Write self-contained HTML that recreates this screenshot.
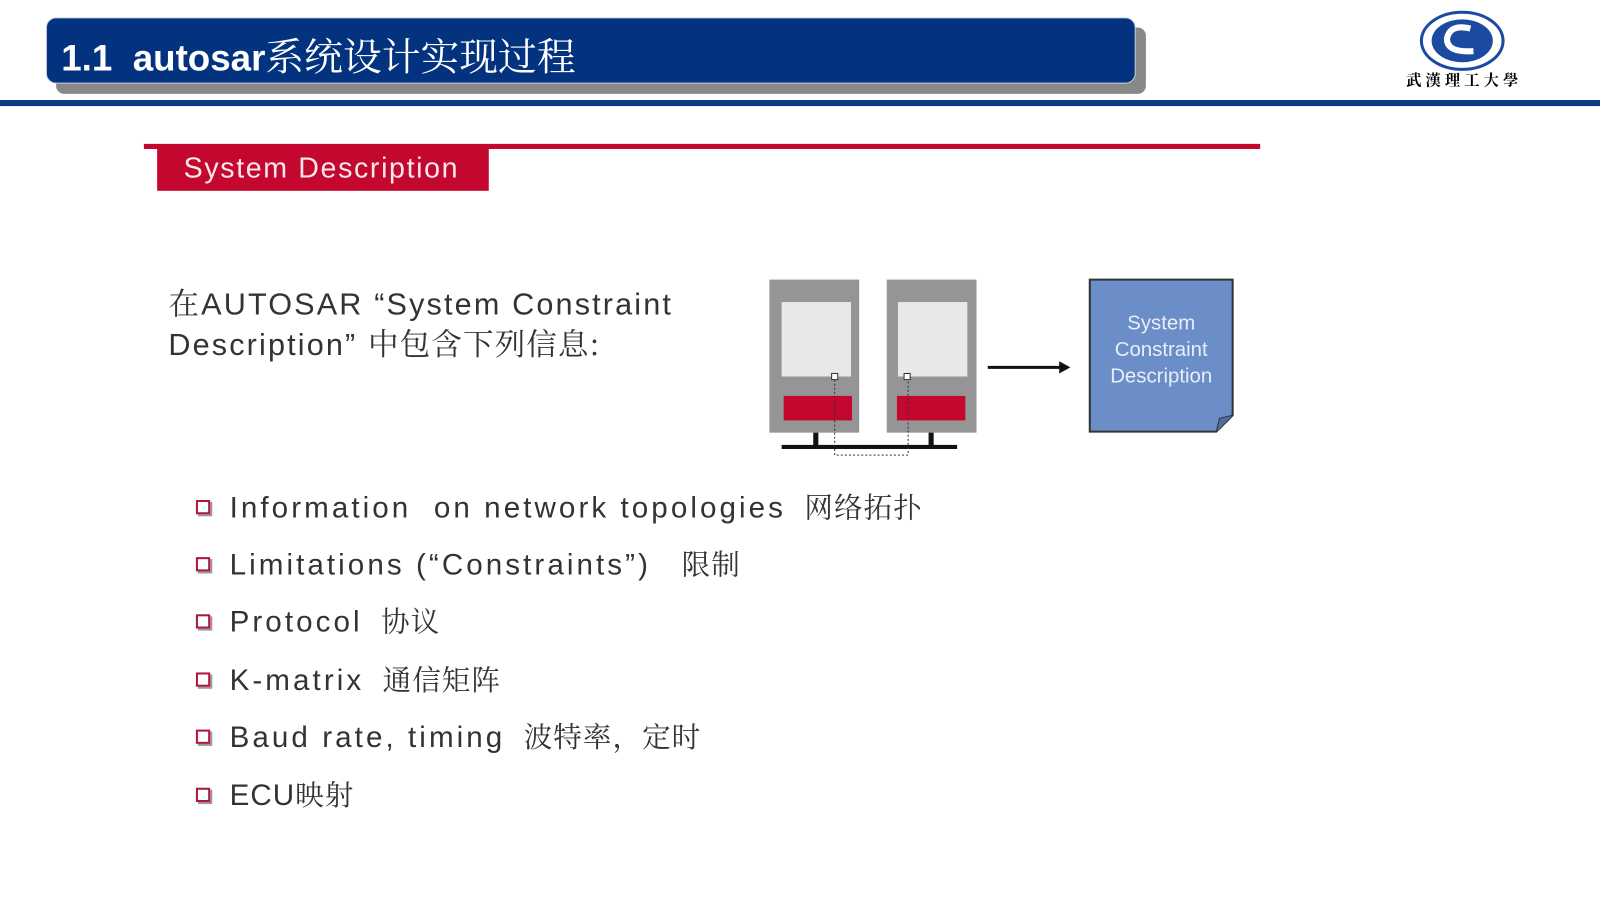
<!DOCTYPE html>
<html><head><meta charset="utf-8"><style>
body{margin:0;width:1600px;height:900px;background:#fff;position:relative;overflow:hidden;font-family:"Liberation Sans","Noto Sans CJK SC",sans-serif}
#w{position:absolute;left:0;top:0;width:1568px;height:882px;transform:scale(1.0204);transform-origin:0 0}
.a{position:absolute}
.li{position:absolute;left:225px;font-size:29px;color:#333;letter-spacing:3px;white-space:nowrap}
.bx{position:absolute;left:192px;width:10px;height:10px;border:2px solid #b0173a;background:#fff;box-shadow:2px 2px 0 #999}
.cn{font-family:"Noto Serif CJK SC",serif;font-size:28px;margin-left:18px;letter-spacing:1px}
</style></head><body><div id="w">
<div class="a" style="left:55px;top:27px;width:1068px;height:65px;background:#888;border-radius:8px"></div>
<div class="a" style="left:45px;top:17px;width:1068px;height:65px;background:#03337f;border-radius:10px;border:1px solid #c8d0e0;box-sizing:border-box"></div>
<div class="a" style="left:60px;top:25px;color:#fff;font-size:36px;font-weight:bold;white-space:nowrap">1.1&nbsp; autosar<span style="font-weight:normal;font-size:38px;font-family:'Noto Serif CJK SC',serif">系统设计实现过程</span></div>
<div class="a" style="left:0;top:98px;width:1600px;height:6px;background:#0b3a86"></div>
<svg class="a" style="left:1388px;top:8px" width="95" height="65"><ellipse cx="45" cy="32" rx="40" ry="28" fill="#fff" stroke="#1b4aa0" stroke-width="3"/><ellipse cx="45" cy="32" rx="30" ry="21" fill="#1b4aa0"/><path d="M53 20 Q33 15 30 30 Q30 44 56 42" stroke="#fff" stroke-width="6" fill="none"/></svg>
<div class="a" style="left:1378px;top:68px;font-size:15px;font-family:'Noto Serif CJK SC',serif;letter-spacing:4px;font-weight:bold">武漢理工大學</div>
<div class="a" style="left:141px;top:141px;width:1094px;height:5px;background:#c3072e"></div>
<div class="a" style="left:154px;top:144px;width:325px;height:43px;background:#c3072e"></div>
<div class="a" style="left:180px;top:149px;color:#fbe8ea;font-size:28px;letter-spacing:1.6px">System Description</div>
<div class="a" style="left:165px;top:277px;font-size:30px;color:#333;line-height:37px;letter-spacing:2.1px;white-space:nowrap"><span style="font-family:'Noto Serif CJK SC',serif">在</span>AUTOSAR “System Constraint<br>Description” <span style="font-family:'Noto Serif CJK SC',serif;letter-spacing:1px">中包含下列信息:</span></div>
<svg class="a" style="left:740px;top:260px" width="480" height="200">
<rect x="14" y="14" width="88" height="150" fill="#959595"/><rect x="26" y="36" width="68" height="73" fill="#e8e8e8"/><rect x="28" y="128" width="67" height="24" fill="#c3072e"/>
<rect x="129" y="14" width="88" height="150" fill="#959595"/><rect x="140" y="36" width="68" height="73" fill="#e8e8e8"/><rect x="139" y="128" width="67" height="24" fill="#c3072e"/>
<rect x="26" y="176" width="172" height="4" fill="#111"/><rect x="57" y="164" width="5" height="14" fill="#111"/><rect x="170" y="164" width="5" height="14" fill="#111"/>
<path d="M78 112 V186 H150 V112" stroke="#333" stroke-dasharray="2 2" fill="none"/>
<rect x="75" y="106" width="6" height="6" fill="#fff" stroke="#333"/><rect x="146" y="106" width="6" height="6" fill="#fff" stroke="#333"/>
<line x1="228" y1="100" x2="300" y2="100" stroke="#111" stroke-width="3"/><polygon points="298,94 309,100 298,106" fill="#111"/>
<path d="M328 14 H468 V147 L452 163 H328 Z" fill="#6c8ec8" stroke="#333" stroke-width="2"/><path d="M452 163 L455 150 L468 147" fill="#4d6fa8" stroke="#333"/>
<text font-size="20" fill="#e8eef8" text-anchor="middle" font-family="Liberation Sans"><tspan x="398" y="63">System</tspan><tspan x="398" y="89">Constraint</tspan><tspan x="398" y="115">Description</tspan></text>
</svg>
<div class="bx" style="top:490px"></div><div class="li" style="top:476px">Information&nbsp; on network topologies<span class="cn">网络拓扑</span></div>
<div class="bx" style="top:546px"></div><div class="li" style="top:532px">Limitations (“Constraints”)<span class="cn" style="margin-left:30px">限制</span></div>
<div class="bx" style="top:602px"></div><div class="li" style="top:588px">Protocol<span class="cn">协议</span></div>
<div class="bx" style="top:659px"></div><div class="li" style="top:645px">K-matrix<span class="cn">通信矩阵</span></div>
<div class="bx" style="top:715px"></div><div class="li" style="top:701px">Baud rate, timing<span class="cn">波特率，定时</span></div>
<div class="bx" style="top:772px"></div><div class="li" style="top:758px;letter-spacing:1px">ECU<span class="cn" style="margin-left:0">映射</span></div>
</div></body></html>
